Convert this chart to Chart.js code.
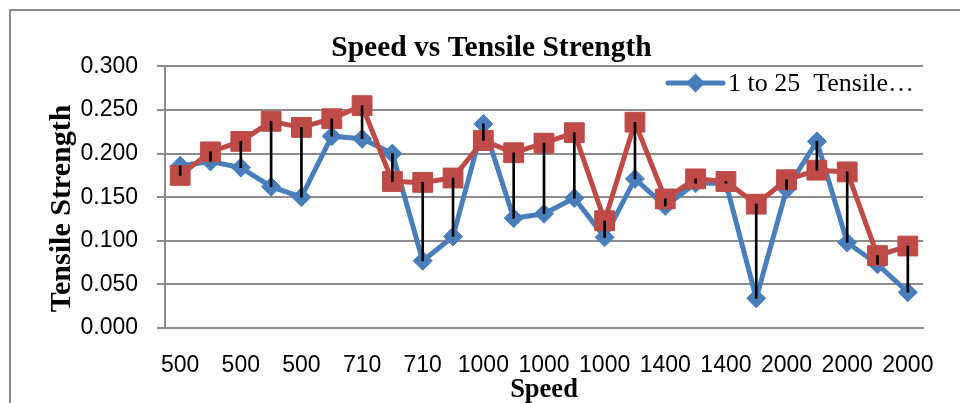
<!DOCTYPE html>
<html>
<head>
<meta charset="utf-8">
<script src="https://cdn.jsdelivr.net/npm/chart.js@4"></script>
<style>
  body { margin: 0; background: #fff; overflow: hidden; }
  #wrap { position: relative; width: 960px; height: 403px; }
  #frame { position: absolute; left: 9px; top: 9px; width: 1000px; height: 500px; border: 2px solid #8c8c8c; }
  #myChart { position: absolute; left: 0; top: 0; }
</style>
</head>
<body>
<div id="wrap">
  <div id="frame"></div>
  <canvas id="myChart" width="960" height="403"></canvas>
</div>
<script>
const speeds = [500, 500, 500, 500, 500, 710, 710, 710, 710, 710,
  1000, 1000, 1000, 1000, 1000, 1400, 1400, 1400, 1400, 1400,
  2000, 2000, 2000, 2000, 2000];
const tensileBlue = [0.186, 0.191, 0.184, 0.162, 0.150, 0.220, 0.217, 0.200, 0.077, 0.105,
  0.234, 0.126, 0.131, 0.149, 0.104, 0.171, 0.140, 0.166, 0.166, 0.034,
  0.159, 0.214, 0.098, 0.073, 0.041];
const tensileRed = [0.175, 0.202, 0.214, 0.237, 0.230, 0.240, 0.255, 0.168, 0.167, 0.172,
  0.215, 0.201, 0.212, 0.224, 0.123, 0.236, 0.148, 0.171, 0.168, 0.142,
  0.170, 0.181, 0.179, 0.083, 0.094];
const yTicks = [0, 0.05, 0.1, 0.15, 0.2, 0.25, 0.3];
const blueLabel = '1 to 25  Tensile\u2026';
const redLabel = 'Predicted Tensile Strength';

const blue = '#4a7ebb', red = '#be4b48', gridGray = '#8c8c8c';
const serif = "'Liberation Serif', 'Times New Roman', serif";

// high-low lines between the two series
const hiLo = tensileBlue.map((v, i) => [Math.min(v, tensileRed[i]), Math.max(v, tensileRed[i])]);

Chart.defaults.font.family = "'Liberation Sans', Arial, sans-serif";
Chart.defaults.color = '#000';

// legend drawn inside the plot, top right, like the original
const innerLegend = {
  id: 'innerLegend',
  afterDraw(chart) {
    const c = chart.ctx;
    const ds = chart.data.datasets[1];
    const y = 83, x0 = 668, x1 = 723;
    c.save();
    c.strokeStyle = ds.borderColor; c.lineWidth = 5; c.lineCap = 'round';
    c.beginPath(); c.moveTo(x0, y); c.lineTo(x1, y); c.stroke();
    const xm = (x0 + x1) / 2, r = 9.5;
    c.fillStyle = ds.borderColor;
    c.beginPath(); c.moveTo(xm, y - r); c.lineTo(xm + r, y); c.lineTo(xm, y + r); c.lineTo(xm - r, y); c.closePath(); c.fill();
    c.fillStyle = '#000'; c.font = '26px ' + serif; c.textBaseline = 'middle'; c.textAlign = 'left';
    c.fillText(ds.label, 728, y + 1);
    c.restore();
  }
};

new Chart(document.getElementById('myChart'), {
  data: {
    labels: speeds,
    datasets: [
      { type: 'bar', label: 'hi-lo', data: hiLo, backgroundColor: '#000', barThickness: 2, order: 0 },
      { type: 'line', label: blueLabel, data: tensileBlue, borderColor: blue, backgroundColor: blue,
        borderWidth: 5, pointStyle: 'rectRot', pointRadius: 9.5, pointBorderWidth: 1, order: 2 },
      { type: 'line', label: redLabel, data: tensileRed, borderColor: red, backgroundColor: red,
        borderWidth: 5, pointStyle: 'rect', pointRadius: 14, pointBorderWidth: 1, order: 1 }
    ]
  },
  options: {
    responsive: false,
    animation: false,
    layout: { padding: { left: 60, right: 37, top: 0, bottom: 0 } },
    plugins: {
      legend: { display: false },
      tooltip: { enabled: false },
      title: { display: true, text: 'Speed vs Tensile Strength',
        font: { family: serif, size: 29.5, weight: 'bold', lineHeight: 1.2 },
        padding: { top: 31, bottom: 0 } }
    },
    scales: {
      x: {
        offset: true,
        grid: { display: false, drawTicks: false },
        border: { color: gridGray, width: 2 },
        ticks: { autoSkip: false, maxRotation: 0, padding: 24, font: { size: 23 },
          callback: function(v, i) { return i % 2 === 0 ? this.getLabelForValue(v) : ''; } },
        title: { display: true, text: 'Speed', font: { family: serif, size: 26.5, weight: 'bold', lineHeight: 1 },
          padding: { top: 0, bottom: 0 } },
        afterFit: s => { s.height = 75; }
      },
      y: {
        min: 0, max: 0.3,
        afterBuildTicks: s => { s.ticks = yTicks.map(v => ({ value: v })); },
        grid: { color: gridGray, lineWidth: 2, tickLength: 8, tickColor: gridGray },
        border: { color: gridGray, width: 2 },
        ticks: { padding: 19, font: { size: 23 }, callback: v => v.toFixed(3) },
        title: { display: true, text: 'Tensile Strength   ', font: { family: serif, size: 30, weight: 'bold', lineHeight: 1 },
          padding: { top: -13, bottom: 0 } },
        afterFit: s => { s.width = 105; }
      }
    }
  },
  plugins: [innerLegend]
});
</script>
</body>
</html>
